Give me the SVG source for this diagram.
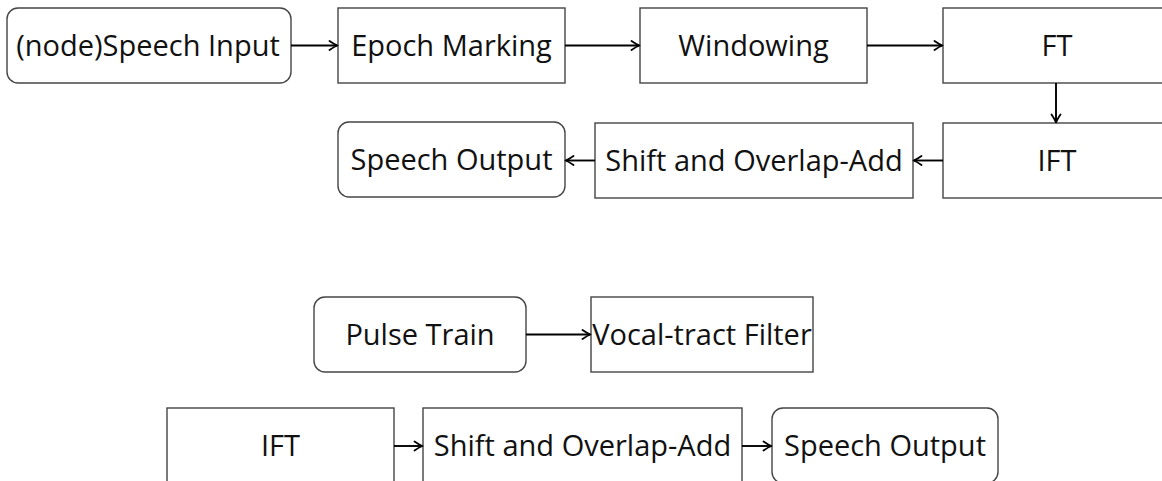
<svg xmlns="http://www.w3.org/2000/svg" width="1162" height="481" viewBox="0 0 1162 481">
  <style>
    .box { fill: #ffffff; stroke: #454545; stroke-width: 1.4; }
    .lbl { font-family: "Open Sans", "Noto Sans", "DejaVu Sans", sans-serif; font-size: 29px; fill: #111111; text-anchor: middle; }
    .edge { fill: none; stroke: #000000; stroke-width: 1.9; marker-end: url(#tip); }
  </style>
  <defs>
    <!-- curved-barb arrow tip -->
    <marker id="tip" markerUnits="userSpaceOnUse" markerWidth="12" markerHeight="12" viewBox="-10 -6 12 12" refX="0" refY="0" orient="auto">
      <path d="M-7.5,-4.5 Q-2.5,-1 0.5,0 Q-2.5,1 -7.5,4.5" fill="none" stroke="#000000" stroke-width="1.8" stroke-linecap="round" stroke-linejoin="round"/>
    </marker>
  </defs>

  <!-- upper pipeline -->
  <g id="speech-input">
    <rect class="box" x="7" y="8" width="284" height="75" rx="11"/>
    <text class="lbl" x="148" y="56">(node)Speech Input</text>
  </g>
  <g id="epoch-marking">
    <rect class="box" x="338" y="8" width="227" height="75"/>
    <text class="lbl" x="451.5" y="56">Epoch Marking</text>
  </g>
  <g id="windowing">
    <rect class="box" x="640" y="8" width="227" height="75"/>
    <text class="lbl" x="753.5" y="56">Windowing</text>
  </g>
  <g id="ft">
    <rect class="box" x="943" y="8" width="228" height="75"/>
    <text class="lbl" x="1057" y="56">FT</text>
  </g>
  <g id="ift">
    <rect class="box" x="943" y="123" width="228" height="75"/>
    <text class="lbl" x="1057" y="171">IFT</text>
  </g>
  <g id="shift-overlap-add">
    <rect class="box" x="595" y="123" width="318" height="75"/>
    <text class="lbl" x="754" y="171">Shift and Overlap-Add</text>
  </g>
  <g id="speech-output">
    <rect class="box" x="338" y="122" width="227" height="75" rx="11"/>
    <text class="lbl" x="451.5" y="170">Speech Output</text>
  </g>

  <!-- source-filter pair -->
  <g id="pulse-train">
    <rect class="box" x="314" y="297" width="212" height="75" rx="11"/>
    <text class="lbl" x="420" y="345">Pulse Train</text>
  </g>
  <g id="vocal-tract-filter">
    <rect class="box" x="591" y="297" width="222" height="75"/>
    <text class="lbl" x="702" y="345">Vocal-tract Filter</text>
  </g>

  <!-- lower pipeline -->
  <g id="ift-2">
    <rect class="box" x="167" y="408" width="227" height="75"/>
    <text class="lbl" x="280.5" y="456">IFT</text>
  </g>
  <g id="shift-overlap-add-2">
    <rect class="box" x="423" y="408" width="319" height="75"/>
    <text class="lbl" x="582.5" y="456">Shift and Overlap-Add</text>
  </g>
  <g id="speech-output-2">
    <rect class="box" x="772" y="408" width="226" height="75" rx="11"/>
    <text class="lbl" x="885" y="456">Speech Output</text>
  </g>

  <g id="connectors">
    <line class="edge" x1="291" y1="45.5" x2="337" y2="45.5"/>
    <line class="edge" x1="565" y1="45.5" x2="639" y2="45.5"/>
    <line class="edge" x1="867" y1="45.5" x2="942" y2="45.5"/>
    <line class="edge" x1="1056" y1="83" x2="1056" y2="122"/>
    <line class="edge" x1="943" y1="160.5" x2="914" y2="160.5"/>
    <line class="edge" x1="595" y1="160.5" x2="566" y2="160.5"/>
    <line class="edge" x1="526" y1="334.5" x2="590" y2="334.5"/>
    <line class="edge" x1="394" y1="446" x2="422" y2="446"/>
    <line class="edge" x1="742" y1="446" x2="771" y2="446"/>
  </g>
</svg>
